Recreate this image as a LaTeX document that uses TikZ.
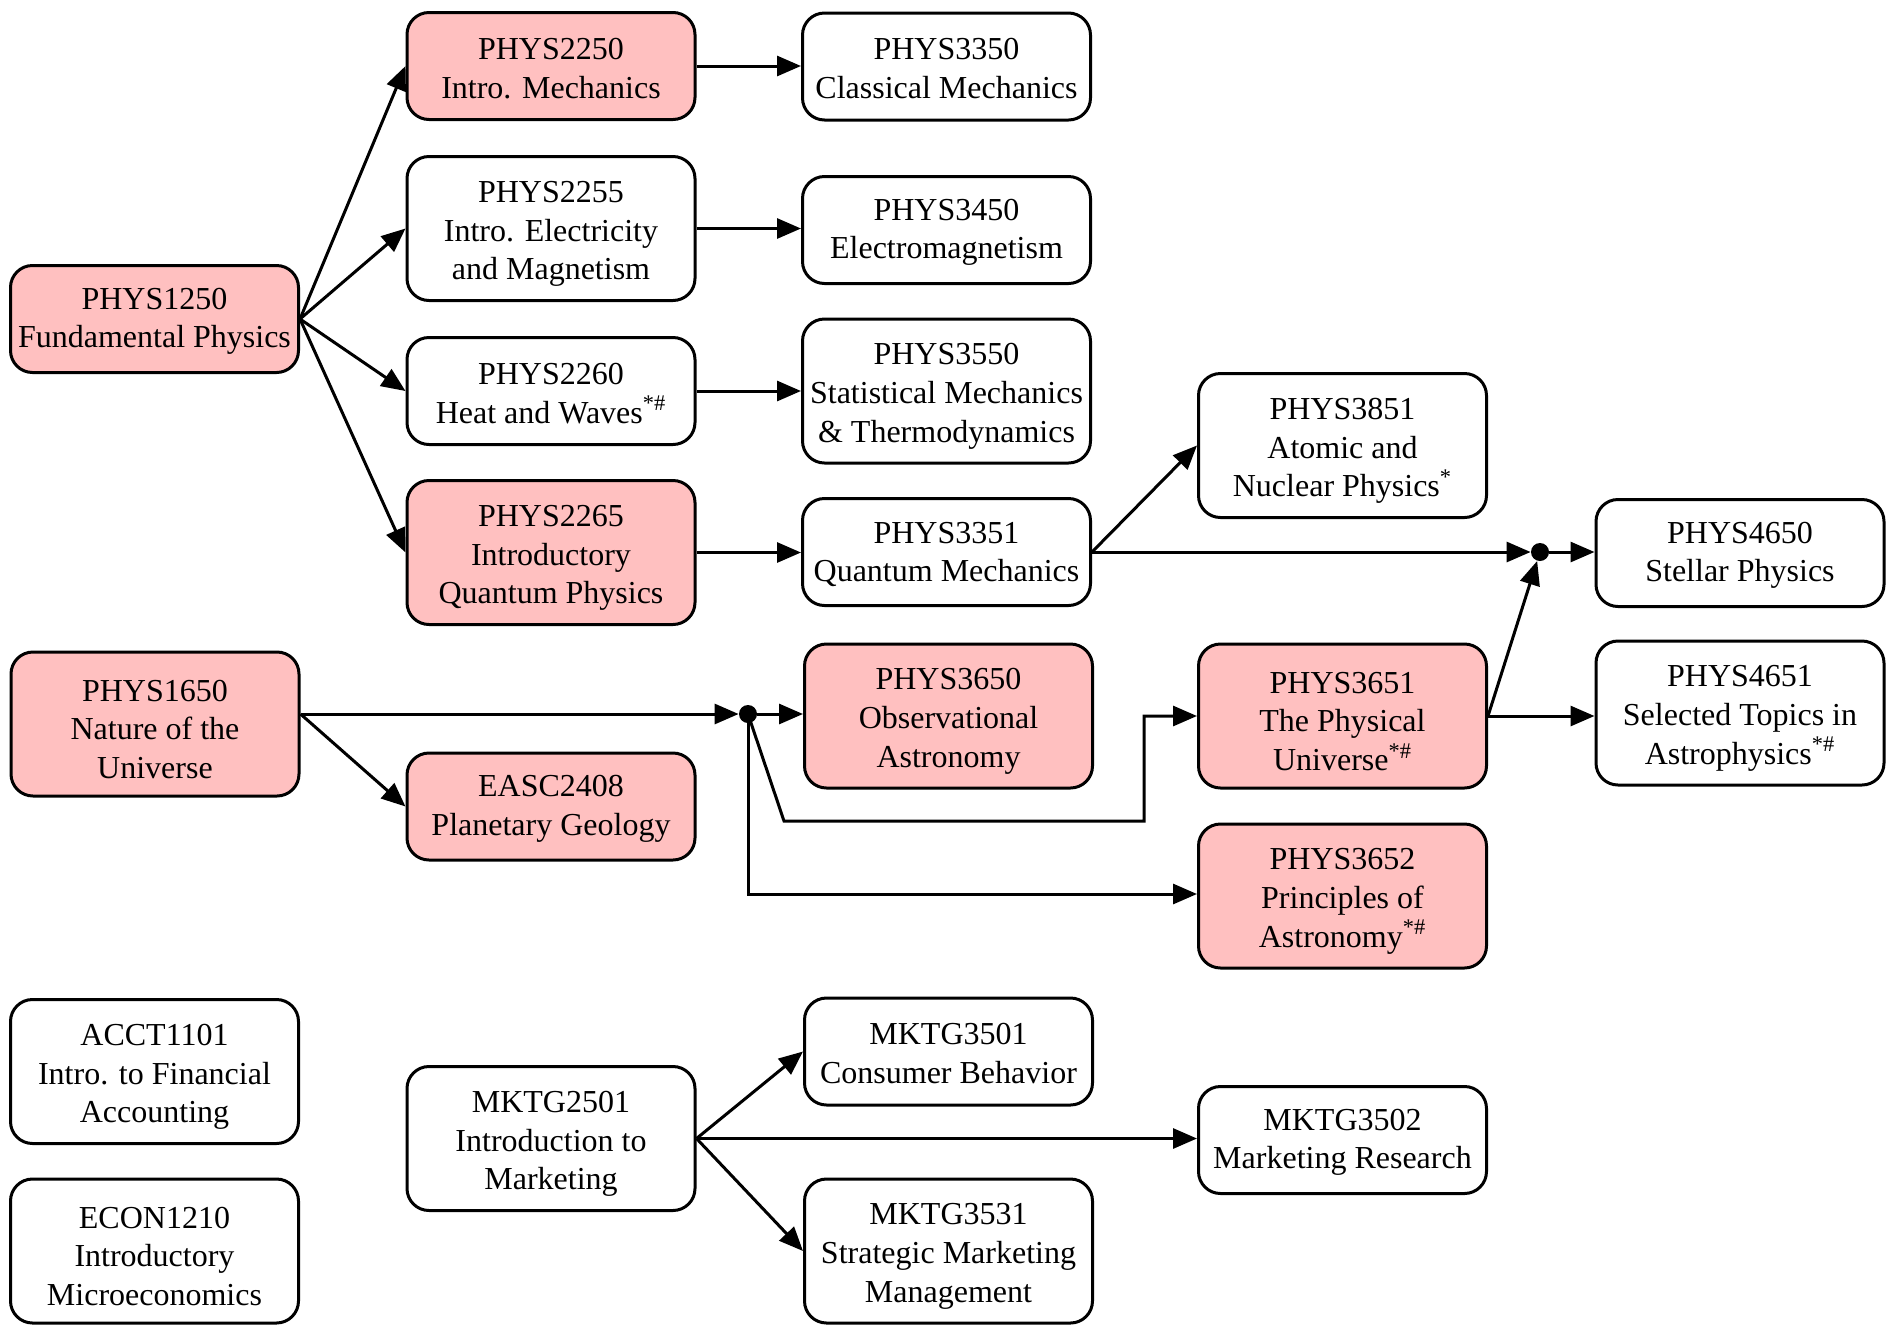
\documentclass[tikz,border=0pt]{standalone}
\usepackage{fontspec}
\setmainfont{Liberation Serif}
\usetikzlibrary{arrows.meta}
\definecolor{pinkfill}{RGB}{255,192,192}
\newcommand\cstrut{\rule{0pt}{16pt}}
\newcommand\dstrut{\rule{0pt}{13pt}}
\tikzset{
  course/.style={draw, line width=1.5pt, rounded corners=11pt, fill=white,
    minimum width=144pt, align=center, inner sep=2pt,
    font=\fontsize{16}{19.4}\selectfont},
  two/.style={minimum height=53.5pt},
  three/.style={minimum height=72pt},
  hl/.style={fill=pinkfill},
  jdot/.style={circle, fill=black, inner sep=0pt, minimum size=9pt},
  conn/.style={line width=1.5pt, -{Triangle[length=12pt,width=10pt]}},
}
\begin{document}
\begin{tikzpicture}[x=0.5pt,y=-0.5pt]
\useasboundingbox (0,0) rectangle (1886,1324);
% column 1
\node[course,two,hl] (p1250) at (154.5,319) {\dstrut PHYS1250\\Fundamental Physics};
\node[course,three,hl] (p1650) at (155,724) {\cstrut PHYS1650\\Nature of the\\Universe};
\node[course,three] (a1101) at (154.5,1071.5) {\cstrut ACCT1101\\Intro. to Financial\\Accounting};
\node[course,three] (e1210) at (154.5,1251) {\cstrut ECON1210\\Introductory\\Microeconomics};
% column 2
\node[course,two,hl] (p2250) at (551,66) {\dstrut PHYS2250\\Intro. Mechanics};
\node[course,three] (p2255) at (551,228.5) {\cstrut PHYS2255\\Intro. Electricity\\and Magnetism};
\node[course,two] (p2260) at (551,391) {\dstrut PHYS2260\\Heat and Waves\textsuperscript{*\#}};
\node[course,three,hl] (p2265) at (551,552.5) {\cstrut PHYS2265\\Introductory\\Quantum Physics};
\node[course,two,hl] (e2408) at (551,806.5) {\dstrut EASC2408\\Planetary Geology};
\node[course,three] (m2501) at (551,1138.5) {\cstrut MKTG2501\\Introduction to\\Marketing};
% column 3
\node[course,two] (p3350) at (946.5,66.5) {\dstrut PHYS3350\\Classical Mechanics};
\node[course,two] (p3450) at (946.5,230) {\dstrut PHYS3450\\Electromagnetism};
\node[course,three] (p3550) at (946.5,391) {\cstrut PHYS3550\\Statistical Mechanics\\\& Thermodynamics};
\node[course,two] (p3351) at (946.5,552) {\dstrut PHYS3351\\Quantum Mechanics};
\node[course,three,hl] (p3650) at (948.5,716) {\cstrut PHYS3650\\Observational\\Astronomy};
\node[course,two] (m3501) at (948.5,1051.5) {\dstrut MKTG3501\\Consumer Behavior};
\node[course,three] (m3531) at (948.5,1251) {\cstrut MKTG3531\\Strategic Marketing\\Management};
% column 4
\node[course,three] (p3851) at (1342.5,445.5) {\cstrut PHYS3851\\Atomic and\\Nuclear Physics\textsuperscript{*}};
\node[course,three,hl] (p3651) at (1342.5,716) {\cstrut PHYS3651\\The Physical\\Universe\textsuperscript{*\#}};
\node[course,three,hl] (p3652) at (1342.5,896) {\cstrut PHYS3652\\Principles of\\Astronomy\textsuperscript{*\#}};
\node[course,two] (m3502) at (1342.5,1140) {\dstrut MKTG3502\\Marketing Research};
% column 5
\node[course,two] (p4650) at (1740,553) {\dstrut PHYS4650\\Stellar Physics};
\node[course,three] (p4651) at (1740,713) {\cstrut PHYS4651\\Selected Topics in\\Astrophysics\textsuperscript{*\#}};
% junctions
\node[jdot] (j1) at (748,714) {};
\node[jdot] (j2) at (1540,552) {};
\coordinate (s1650) at (p1650.east |- j1);
\coordinate (b1) at (784,821);
\coordinate (b2) at (1144,821);
\coordinate (b3) at (748,894);
% edges
\draw[conn] (p1250.east) -- (p2250.west);
\draw[conn] (p1250.east) -- (p2255.west);
\draw[conn] (p1250.east) -- (p2260.west);
\draw[conn] (p1250.east) -- (p2265.west);
\draw[conn] (p2250.east) -- (p2250.east -| p3350.west);
\draw[conn] (p2255.east) -- (p2255.east -| p3450.west);
\draw[conn] (p2260.east) -- (p2260.east -| p3550.west);
\draw[conn] (p2265.east) -- (p2265.east -| p3351.west);
\draw[conn] (p3351.east) -- (p3851.west);
\draw[conn] (p3351.east) -- (j2);
\draw[conn] (j2) -- (j2 -| p4650.west);
\draw[conn] (p3651.east) -- (j2);
\draw[conn] (p3651.east) -- (p3651.east -| p4651.west);
\draw[conn] (s1650) -- (j1);
\draw[conn] (s1650) -- (e2408.west);
\draw[conn] (j1) -- (j1 -| p3650.west);
\draw[conn] (j1.center) -- (b1) -- (b2) -- (b2 |- p3651.west) -- (p3651.west);
\draw[conn] (j1.center) -- (b3) -- (b3 -| p3652.west);
\draw[conn] (m2501.east) -- (m3501.west);
\draw[conn] (m2501.east) -- (m2501.east -| m3502.west);
\draw[conn] (m2501.east) -- (m3531.west);
\end{tikzpicture}
\end{document}
